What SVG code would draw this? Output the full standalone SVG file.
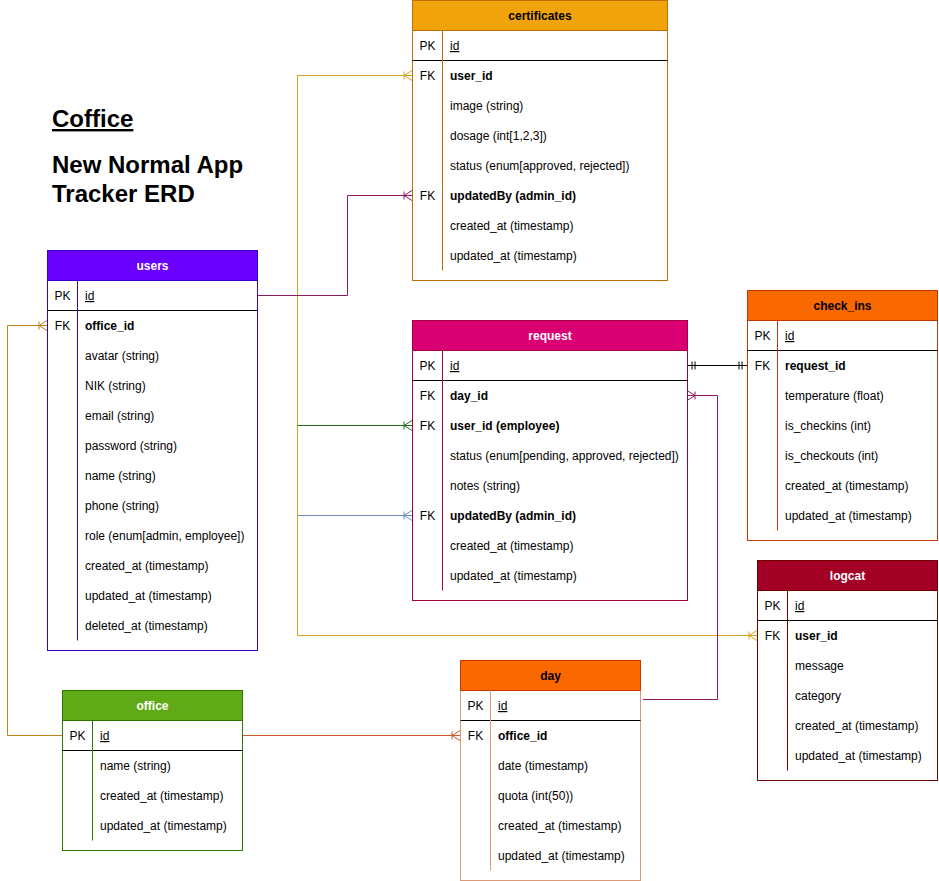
<svg xmlns="http://www.w3.org/2000/svg" width="939" height="881" viewBox="0 0 939 881">
<style>
text{font-family:"Liberation Sans",Arial,Helvetica,sans-serif;font-size:12px;fill:#000}
.h{font-weight:bold;text-anchor:middle}
.w{fill:#fff}
.k{text-anchor:middle}
.b{font-weight:bold}
.u{text-decoration:underline}
.t{font-size:24px;font-weight:bold}
.sep{stroke:#000;stroke-width:1}
.c{fill:none;stroke-width:1}
</style>
<defs>
<marker id="cfAmber" markerUnits="userSpaceOnUse" markerWidth="14" markerHeight="14" viewBox="-11 -7 14 14" refX="0" refY="0" orient="auto"><path d="M-8,-4V4M-8,0L0,-5M-8,0L0,5" fill="none" stroke="#d6a21a"/></marker>
<marker id="cfGreen" markerUnits="userSpaceOnUse" markerWidth="14" markerHeight="14" viewBox="-11 -7 14 14" refX="0" refY="0" orient="auto"><path d="M-8,-4V4M-8,0L0,-5M-8,0L0,5" fill="none" stroke="#1f6e1f"/></marker>
<marker id="cfBlue" markerUnits="userSpaceOnUse" markerWidth="14" markerHeight="14" viewBox="-11 -7 14 14" refX="0" refY="0" orient="auto"><path d="M-8,-4V4M-8,0L0,-5M-8,0L0,5" fill="none" stroke="#6c8ebf"/></marker>
<marker id="cfPurple" markerUnits="userSpaceOnUse" markerWidth="14" markerHeight="14" viewBox="-11 -7 14 14" refX="0" refY="0" orient="auto"><path d="M-8,-4V4M-8,0L0,-5M-8,0L0,5" fill="none" stroke="#8e1a62"/></marker>
<marker id="cfBrown" markerUnits="userSpaceOnUse" markerWidth="14" markerHeight="14" viewBox="-11 -7 14 14" refX="0" refY="0" orient="auto"><path d="M-8,-4V4M-8,0L0,-5M-8,0L0,5" fill="none" stroke="#c0801a"/></marker>
<marker id="cfRed" markerUnits="userSpaceOnUse" markerWidth="14" markerHeight="14" viewBox="-11 -7 14 14" refX="0" refY="0" orient="auto"><path d="M-8,-4V4M-8,0L0,-5M-8,0L0,5" fill="none" stroke="#d0582a"/></marker>
<marker id="one" markerUnits="userSpaceOnUse" markerWidth="14" markerHeight="14" viewBox="-11 -7 14 14" refX="0" refY="0" orient="auto-start-reverse"><path d="M-5,-4V4M-8,-4V4" fill="none" stroke="#000"/></marker>
</defs>

<g id="title">
<text class="t u" x="52" y="127">Coffice</text>
<text class="t" x="52" y="173">New Normal App</text>
<text class="t" x="52" y="202">Tracker ERD</text>
</g>

<g id="connectors">
<path class="c" d="M257.5,295.5H297.5V75.5H412" stroke="#d6a21a" marker-end="url(#cfAmber)"/>
<path class="c" d="M297.5,295.5V635.5H757" stroke="#d6a21a" marker-end="url(#cfAmber)"/>
<path class="c" d="M297.5,425.5H412" stroke="#1f6e1f" marker-end="url(#cfGreen)"/>
<path class="c" d="M297.5,515.5H412" stroke="#6c8ebf" marker-end="url(#cfBlue)"/>
<path class="c" d="M257.5,295.5H347.5V195.5H412" stroke="#8e1a62" marker-end="url(#cfPurple)"/>
<path class="c" d="M643,699.5H717.5V395.5H687" stroke="#8e1a62" marker-end="url(#cfPurple)"/>
<path class="c" d="M687,365.5H747" stroke="#000" marker-start="url(#one)" marker-end="url(#one)"/>
<path class="c" d="M62,735.5H7.5V325.5H47" stroke="#c0801a" marker-end="url(#cfBrown)"/>
<path class="c" d="M242,735.5H460" stroke="#d0582a" marker-end="url(#cfRed)"/>
</g>

<g id="certificates">
<rect x="412.5" y="0.5" width="255" height="280" fill="#fff" stroke="#BD7000"/>
<rect x="412.5" y="0.5" width="255" height="30" fill="#f0a30a" stroke="#BD7000"/>
<line class="sep" x1="412.5" y1="60.5" x2="667.5" y2="60.5"/>
<line x1="442.5" y1="30.5" x2="442.5" y2="270.5" stroke="#BD7000"/>
<text class="h" x="540" y="20">certificates</text>
<text class="k" x="427.5" y="50">PK</text><text class="u" x="450" y="50">id</text>
<text class="k" x="427.5" y="80">FK</text><text class="b" x="450" y="80">user_id</text>
<text x="450" y="110">image (string)</text>
<text x="450" y="140">dosage (int[1,2,3])</text>
<text x="450" y="170">status (enum[approved, rejected])</text>
<text class="k" x="427.5" y="200">FK</text><text class="b" x="450" y="200">updatedBy (admin_id)</text>
<text x="450" y="230">created_at (timestamp)</text>
<text x="450" y="260">updated_at (timestamp)</text>
</g>

<g id="users">
<rect x="47.5" y="250.5" width="210" height="400" fill="#fff" stroke="#3700CC"/>
<rect x="47.5" y="250.5" width="210" height="30" fill="#6a00ff" stroke="#3700CC"/>
<line class="sep" x1="47.5" y1="310.5" x2="257.5" y2="310.5"/>
<line x1="77.5" y1="280.5" x2="77.5" y2="640.5" stroke="#3700CC"/>
<text class="h w" x="152.5" y="270">users</text>
<text class="k" x="62.5" y="300">PK</text><text class="u" x="85" y="300">id</text>
<text class="k" x="62.5" y="330">FK</text><text class="b" x="85" y="330">office_id</text>
<text x="85" y="360">avatar (string)</text>
<text x="85" y="390">NIK (string)</text>
<text x="85" y="420">email (string)</text>
<text x="85" y="450">password (string)</text>
<text x="85" y="480">name (string)</text>
<text x="85" y="510">phone (string)</text>
<text x="85" y="540">role (enum[admin, employee])</text>
<text x="85" y="570">created_at (timestamp)</text>
<text x="85" y="600">updated_at (timestamp)</text>
<text x="85" y="630">deleted_at (timestamp)</text>
</g>

<g id="request">
<rect x="412.5" y="320.5" width="275" height="280" fill="#fff" stroke="#A50040"/>
<rect x="412.5" y="320.5" width="275" height="30" fill="#d80073" stroke="#A50040"/>
<line class="sep" x1="412.5" y1="380.5" x2="687.5" y2="380.5"/>
<line x1="442.5" y1="350.5" x2="442.5" y2="590.5" stroke="#A50040"/>
<text class="h w" x="550" y="340">request</text>
<text class="k" x="427.5" y="370">PK</text><text class="u" x="450" y="370">id</text>
<text class="k" x="427.5" y="400">FK</text><text class="b" x="450" y="400">day_id</text>
<text class="k" x="427.5" y="430">FK</text><text class="b" x="450" y="430">user_id (employee)</text>
<text x="450" y="460">status (enum[pending, approved, rejected])</text>
<text x="450" y="490">notes (string)</text>
<text class="k" x="427.5" y="520">FK</text><text class="b" x="450" y="520">updatedBy (admin_id)</text>
<text x="450" y="550">created_at (timestamp)</text>
<text x="450" y="580">updated_at (timestamp)</text>
</g>

<g id="check_ins">
<rect x="747.5" y="290.5" width="190" height="250" fill="#fff" stroke="#C73500"/>
<rect x="747.5" y="290.5" width="190" height="30" fill="#fa6800" stroke="#C73500"/>
<line class="sep" x1="747.5" y1="350.5" x2="937.5" y2="350.5"/>
<line x1="777.5" y1="320.5" x2="777.5" y2="530.5" stroke="#C73500"/>
<text class="h" x="842.5" y="310">check_ins</text>
<text class="k" x="762.5" y="340">PK</text><text class="u" x="785" y="340">id</text>
<text class="k" x="762.5" y="370">FK</text><text class="b" x="785" y="370">request_id</text>
<text x="785" y="400">temperature (float)</text>
<text x="785" y="430">is_checkins (int)</text>
<text x="785" y="460">is_checkouts (int)</text>
<text x="785" y="490">created_at (timestamp)</text>
<text x="785" y="520">updated_at (timestamp)</text>
</g>

<g id="logcat">
<rect x="757.5" y="560.5" width="180" height="220" fill="#fff" stroke="#6F0000"/>
<rect x="757.5" y="560.5" width="180" height="30" fill="#a20025" stroke="#6F0000"/>
<line class="sep" x1="757.5" y1="620.5" x2="937.5" y2="620.5"/>
<line x1="787.5" y1="590.5" x2="787.5" y2="770.5" stroke="#6F0000"/>
<text class="h w" x="847.5" y="580">logcat</text>
<text class="k" x="772.5" y="610">PK</text><text class="u" x="795" y="610">id</text>
<text class="k" x="772.5" y="640">FK</text><text class="b" x="795" y="640">user_id</text>
<text x="795" y="670">message</text>
<text x="795" y="700">category</text>
<text x="795" y="730">created_at (timestamp)</text>
<text x="795" y="760">updated_at (timestamp)</text>
</g>

<g id="day">
<rect x="460.5" y="660.5" width="180" height="220" fill="#fff" stroke="#dc9a78"/>
<rect x="460.5" y="660.5" width="180" height="30" fill="#fa6800" stroke="#C73500"/>
<line class="sep" x1="460.5" y1="720.5" x2="640.5" y2="720.5"/>
<line x1="490.5" y1="690.5" x2="490.5" y2="870.5" stroke="#dc9a78"/>
<text class="h" x="550.5" y="680">day</text>
<text class="k" x="475.5" y="710">PK</text><text class="u" x="498" y="710">id</text>
<text class="k" x="475.5" y="740">FK</text><text class="b" x="498" y="740">office_id</text>
<text x="498" y="770">date (timestamp)</text>
<text x="498" y="800">quota (int(50))</text>
<text x="498" y="830">created_at (timestamp)</text>
<text x="498" y="860">updated_at (timestamp)</text>
</g>

<g id="office">
<rect x="62.5" y="690.5" width="180" height="160" fill="#fff" stroke="#2D7600"/>
<rect x="62.5" y="690.5" width="180" height="30" fill="#60a917" stroke="#2D7600"/>
<line class="sep" x1="62.5" y1="750.5" x2="242.5" y2="750.5"/>
<line x1="92.5" y1="720.5" x2="92.5" y2="840.5" stroke="#2D7600"/>
<text class="h w" x="152.5" y="710">office</text>
<text class="k" x="77.5" y="740">PK</text><text class="u" x="100" y="740">id</text>
<text x="100" y="770">name (string)</text>
<text x="100" y="800">created_at (timestamp)</text>
<text x="100" y="830">updated_at (timestamp)</text>
</g>
</svg>
